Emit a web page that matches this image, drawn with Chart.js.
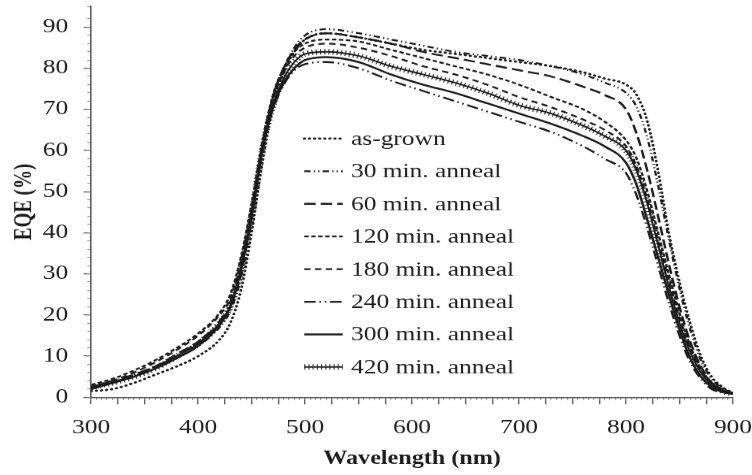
<!DOCTYPE html>
<html>
<head>
<meta charset="utf-8">
<script src="https://cdn.jsdelivr.net/npm/chart.js@4"></script>
<style>
  html, body { margin: 0; padding: 0; background: #fff; overflow: hidden; }
  /* the source figure is a horizontally stretched scan, so the chart is drawn narrow and stretched */
  #wrap { position: absolute; left: 0; top: 0; width: 592px; height: 475px;
          transform: scaleX(1.2703); transform-origin: 0 0; }
</style>
</head>
<body>
<div id="wrap"><canvas id="eqeChart"></canvas></div>
<script>
// ===== EQE vs WAVELENGTH =====

const wavelengths = [300, 320, 340, 360, 380, 400, 420, 430, 440, 450, 460, 470, 480, 490, 500, 520, 550, 580, 610, 640,
                     670, 700, 730, 760, 780, 800, 810, 820, 830, 840, 850, 860, 870, 880, 890, 900];

const asGrown   = [1.5, 2, 3.5, 5.5, 7.5, 10, 14, 18, 26, 40, 57, 71, 79, 84, 87, 88.5, 87.5, 86, 84.5, 83.5,
                   82.5, 81.5, 80.5, 79, 77.5, 76, 73.5, 67, 55, 40, 28, 18, 10, 5, 2.5, 1];
const anneal30  = [2.5, 3.5, 5, 7, 9.5, 12.5, 17, 21, 29, 43, 60, 73, 80, 85, 88, 89.5, 88.5, 87, 85.5, 84,
                   83, 82, 80.5, 78.5, 76.5, 74, 70.5, 63, 51.5, 38.5, 26.5, 16.5, 9, 4.5, 2.2, 1];
const anneal60  = [2.5, 4, 5.5, 7.5, 10.5, 13.5, 18, 22, 30, 44, 61, 73, 80, 84.5, 87, 88.5, 87.5, 86, 84, 82.5,
                   81, 79.5, 78, 75.5, 73.5, 70, 64, 55, 44, 32.5, 22, 13.5, 7.5, 3.5, 1.8, 1];
const anneal120 = [3, 4.5, 6.5, 9, 12, 15.5, 20.5, 25, 34, 47, 62, 73.5, 80, 84, 86, 87, 86.5, 84.5, 82.5, 80.5,
                   78.5, 76, 73, 70, 67, 62.5, 58, 50, 40, 30, 20.5, 12.5, 7, 3.5, 2, 1];
const anneal180 = [2.5, 4, 6, 8.5, 11.5, 15, 20, 24, 33, 46, 61, 72.5, 79, 83, 85, 86, 85, 83, 80.5, 78.5,
                   76, 73, 70.5, 67.5, 65, 61, 56, 48, 38, 28.5, 19, 12, 6.5, 3.5, 2, 1];
const anneal240 = [2, 3.5, 5.5, 7.5, 10, 13.5, 18.5, 23, 32, 45, 60, 70, 76, 79.5, 81, 81.5, 80, 77, 74.5, 72,
                   69.5, 67, 64.5, 61, 58, 54.5, 49, 41, 32, 23, 15, 8.5, 4.5, 2, 1.2, 0.8];
const anneal300 = [2, 3.5, 5, 7, 9.5, 12.5, 17.5, 22, 31, 44, 60, 70.5, 76.5, 80, 82, 82.7, 81.5, 78.5, 76, 74,
                   71.5, 69, 66.5, 63.5, 61, 57, 51.5, 43, 34, 25, 16.5, 9.5, 5, 2.5, 1.3, 0.8];
const anneal420 = [2.5, 3.5, 5, 7, 10, 13, 18, 22, 31, 44, 60, 71, 77.5, 81.5, 83.5, 84, 83, 80.5, 78.5, 76.5,
                   74, 71, 69, 66, 63.5, 60, 55, 47, 37, 27, 18, 11, 6, 3, 1.5, 0.8];

const seriesLabels = ['as-grown', '30 min. anneal', '60 min. anneal', '120 min. anneal',
                      '180 min. anneal', '240 min. anneal', '300 min. anneal', '420 min. anneal'];
const seriesValues = [asGrown, anneal30, anneal60, anneal120, anneal180, anneal240, anneal300, anneal420];

const xTickLabels = [300, 400, 500, 600, 700, 800, 900];
const yTickLabels = [0, 10, 20, 30, 40, 50, 60, 70, 80, 90];

const lineStyles = [
  { dash: [0.4, 3.6], cap: 'round', width: 2.2 },
  { dash: [5, 2.5, 1, 2.5, 1, 2.5], cap: 'butt', width: 1.8 },
  { dash: [9, 4], cap: 'butt', width: 1.9 },
  { dash: [3.5, 2], cap: 'butt', width: 1.8 },
  { dash: [5, 3.5], cap: 'butt', width: 1.8 },
  { dash: [9, 3, 1.2, 3, 1.2, 3], cap: 'butt', width: 1.8 },
  { dash: [], cap: 'butt', width: 1.9 },
  { dash: [], cap: 'butt', width: 1.5 }
];

const ink = '#1c1c1c';
const serif = '"Liberation Serif", "Times New Roman", serif';

const toPoints = vals => wavelengths.map((w, i) => ({ x: w, y: vals[i] }));

const datasets = seriesValues.map((vals, i) => ({
  label: seriesLabels[i],
  data: toPoints(vals),
  borderColor: ink,
  borderWidth: lineStyles[i].width,
  borderDash: lineStyles[i].dash,
  borderCapStyle: lineStyles[i].cap,
  pointRadius: 0,
  fill: false,
  cubicInterpolationMode: 'monotone',
  legendRow: i
}));

// cross-hatch marks of the 420 min curve
datasets.push({
  label: '420 hatch',
  data: toPoints(anneal420),
  borderColor: '#333',
  borderWidth: 5.5,
  borderDash: [0.9, 2.4],
  pointRadius: 0,
  fill: false,
  cubicInterpolationMode: 'monotone',
  legendRow: 7,
  legendSkip: true
});

const inlineLegend = {
  id: 'inlineLegend',
  afterDatasetsDraw(chart) {
    const { ctx, chartArea: a } = chart;
    const x0 = a.left + a.width * 0.332;
    const x1 = a.left + a.width * 0.392;
    const tx = a.left + a.width * 0.405;
    ctx.save();
    chart.data.datasets.forEach(ds => {
      const y = a.top + a.height * (0.338 + 0.0835 * ds.legendRow);
      ctx.beginPath();
      ctx.setLineDash(ds.borderDash || []);
      ctx.lineCap = ds.borderCapStyle || 'butt';
      ctx.lineWidth = ds.borderWidth;
      ctx.strokeStyle = ds.borderColor;
      ctx.moveTo(x0, y);
      ctx.lineTo(x1, y);
      ctx.stroke();
      if (!ds.legendSkip) {
        ctx.setLineDash([]);
        ctx.font = '20px ' + serif;
        ctx.fillStyle = ink;
        ctx.textBaseline = 'middle';
        ctx.textAlign = 'left';
        ctx.fillText(ds.label, tx, y + 1);
      }
    });
    ctx.restore();
  }
};

new Chart(document.getElementById('eqeChart'), {
  type: 'line',
  data: { datasets },
  plugins: [inlineLegend],
  options: {
    responsive: true,
    maintainAspectRatio: false,
    devicePixelRatio: 1.2703,
    animation: false,
    layout: { padding: { left: 0, right: 0, top: 6.5, bottom: 0 } },
    plugins: {
      legend: { display: false },
      tooltip: { enabled: false }
    },
    scales: {
      x: {
        type: 'linear', min: 300, max: 900,
        ticks: {
          stepSize: 25, autoSkip: false, maxRotation: 0, padding: 12,
          color: ink, font: { family: serif, size: 20 },
          callback: v => xTickLabels.includes(v) ? String(v) : ''
        },
        grid: { drawOnChartArea: false, tickLength: 7, tickColor: '#555', tickWidth: 1 },
        border: { color: '#555', width: 1.2 },
        title: {
          display: true, text: 'Wavelength (nm)', color: ink,
          font: { family: serif, size: 19, weight: 'bold' }, padding: { top: 0, bottom: 5 }
        },
        afterFit: s => { s.height = 78; s.paddingLeft = 0; s.paddingRight = 15; }
      },
      xMinor: {
        type: 'linear', min: 300, max: 900, position: { y: 0 },
        ticks: { display: false, stepSize: 5 },
        grid: { drawOnChartArea: false, tickLength: 3, tickColor: '#888', tickWidth: 0.8 },
        border: { display: false }
      },
      y: {
        min: 0, max: 95,
        ticks: {
          stepSize: 10, includeBounds: false, padding: 12,
          color: ink, font: { family: serif, size: 20 },
          callback: v => yTickLabels.includes(v) ? String(v) : ''
        },
        grid: { drawOnChartArea: false, tickLength: 6, tickColor: '#555', tickWidth: 1 },
        border: { color: '#555', width: 1.2 },
        title: {
          display: true, text: 'EQE (%)', color: ink,
          font: { family: serif, size: 19, weight: 'bold' }, padding: { top: 8, bottom: 0 }
        },
        afterFit: s => { s.width = 71.7; s.paddingTop = 0; s.paddingBottom = 0; }
      },
      yMinor: {
        type: 'linear', min: 0, max: 95, position: { x: 300 },
        ticks: { display: false, stepSize: 2 },
        grid: { drawOnChartArea: false, tickLength: 3, tickColor: '#888', tickWidth: 0.8 },
        border: { display: false }
      }
    }
  }
});
</script>
</body>
</html>
